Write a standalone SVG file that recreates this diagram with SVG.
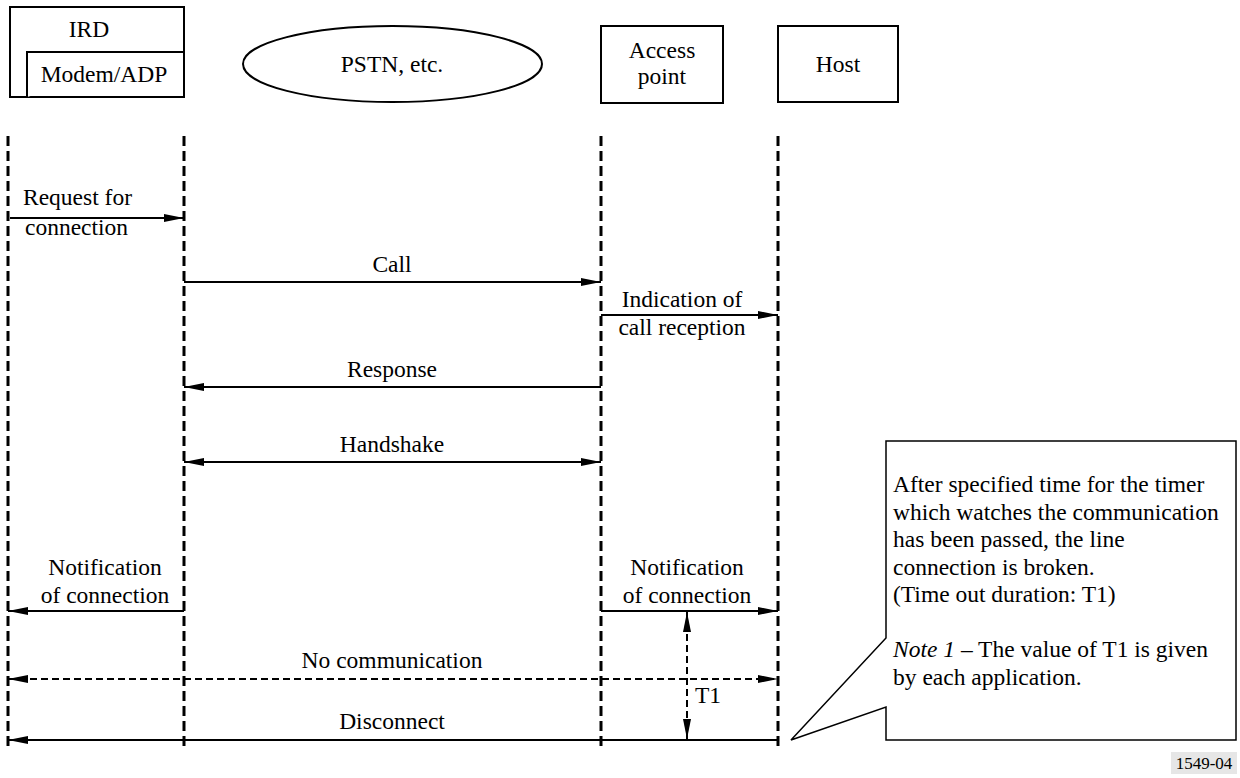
<svg xmlns="http://www.w3.org/2000/svg" width="1240" height="778" viewBox="0 0 1240 778">
<style>
text{font-family:"Liberation Serif",Tinos,"Times New Roman","Nimbus Roman","DejaVu Serif",serif;font-size:23.5px;fill:#000}
.box{fill:#fff;stroke:#000;stroke-width:2}
.life{stroke:#000;stroke-width:3;stroke-dasharray:10 5;fill:none}
.msg{stroke:#000;stroke-width:2;fill:none}
.dash{stroke:#000;stroke-width:2;stroke-dasharray:7 4;fill:none}
.mid{text-anchor:middle}
</style>
<defs>
<marker id="ah" viewBox="0 0 20 8" refX="20" refY="4" markerWidth="20" markerHeight="8" markerUnits="userSpaceOnUse" orient="auto-start-reverse">
<path d="M0,0 L20,4 L0,8 z" fill="#000"/>
</marker>
</defs>
<rect width="1240" height="778" fill="#fff"/>
<g id="ird">
<rect class="box" x="10" y="7" width="174" height="90"/>
<path class="box" d="M27,97 V52 H185"/>
<text x="89" y="37" class="mid">IRD</text>
<text x="104" y="82" class="mid">Modem/ADP</text>
</g>
<g id="pstn">
<ellipse class="box" cx="392.5" cy="64" rx="149.5" ry="38"/>
<text x="392" y="72" class="mid">PSTN, etc.</text>
</g>
<g id="access">
<rect class="box" x="601" y="26" width="122" height="77"/>
<text x="662" y="58" class="mid">Access</text>
<text x="662" y="84" class="mid">point</text>
</g>
<g id="host">
<rect class="box" x="778" y="26" width="120" height="76"/>
<text x="838" y="72" class="mid">Host</text>
</g>
<g id="lifelines">
<line class="life" x1="8" y1="136" x2="8" y2="746"/>
<line class="life" x1="184" y1="136" x2="184" y2="746"/>
<line class="life" x1="601" y1="136" x2="601" y2="746"/>
<line class="life" x1="778" y1="136" x2="778" y2="746"/>
</g>
<g id="connectors">
<line class="msg" x1="10" y1="218" x2="184" y2="218" marker-end="url(#ah)"/>
<line class="msg" x1="184" y1="282" x2="601" y2="282" marker-end="url(#ah)"/>
<line class="msg" x1="601" y1="315" x2="778" y2="315" marker-end="url(#ah)"/>
<line class="msg" x1="601" y1="387" x2="184" y2="387" marker-end="url(#ah)"/>
<line class="msg" x1="184" y1="462" x2="601" y2="462" marker-start="url(#ah)" marker-end="url(#ah)"/>
<line class="msg" x1="184" y1="611" x2="8" y2="611" marker-end="url(#ah)"/>
<line class="msg" x1="601" y1="611" x2="778" y2="611" marker-end="url(#ah)"/>
<line class="dash" x1="8" y1="679" x2="778" y2="679" marker-start="url(#ah)" marker-end="url(#ah)"/>
<line class="msg" x1="778" y1="740" x2="8" y2="740" marker-end="url(#ah)"/>
<line class="dash" x1="687" y1="612" x2="687" y2="739" marker-start="url(#ah)" marker-end="url(#ah)"/>
</g>
<g id="labels">
<text x="23" y="205">Request for</text>
<text x="25" y="235">connection</text>
<text x="392" y="272" class="mid">Call</text>
<text x="682" y="307" class="mid">Indication of</text>
<text x="682" y="335" class="mid">call reception</text>
<text x="392" y="377" class="mid">Response</text>
<text x="392" y="452" class="mid">Handshake</text>
<text x="105" y="575" class="mid">Notification</text>
<text x="105" y="603" class="mid">of connection</text>
<text x="687" y="575" class="mid">Notification</text>
<text x="687" y="603" class="mid">of connection</text>
<text x="392" y="668" class="mid">No communication</text>
<text x="695" y="703">T1</text>
<text x="392" y="729" class="mid">Disconnect</text>
</g>
<g id="callout">
<path d="M886,441 H1236 V740 H886 V707 L791,740 L886,638 Z" fill="#fff" stroke="#000" stroke-width="1.5"/>
<text x="893" y="492">After specified time for the timer</text>
<text x="893" y="520">which watches the communication</text>
<text x="893" y="547">has been passed, the line</text>
<text x="893" y="575">connection is broken.</text>
<text x="893" y="602">(Time out duration: T1)</text>
<text x="893" y="657"><tspan font-style="italic">Note 1</tspan> – The value of T1 is given</text>
<text x="893" y="685">by each application.</text>
</g>
<g id="figure-id">
<rect x="1171" y="752" width="66" height="22" fill="#e6e6e6"/>
<text x="1204" y="769" class="mid" style="font-size:17px">1549-04</text>
</g>
</svg>
